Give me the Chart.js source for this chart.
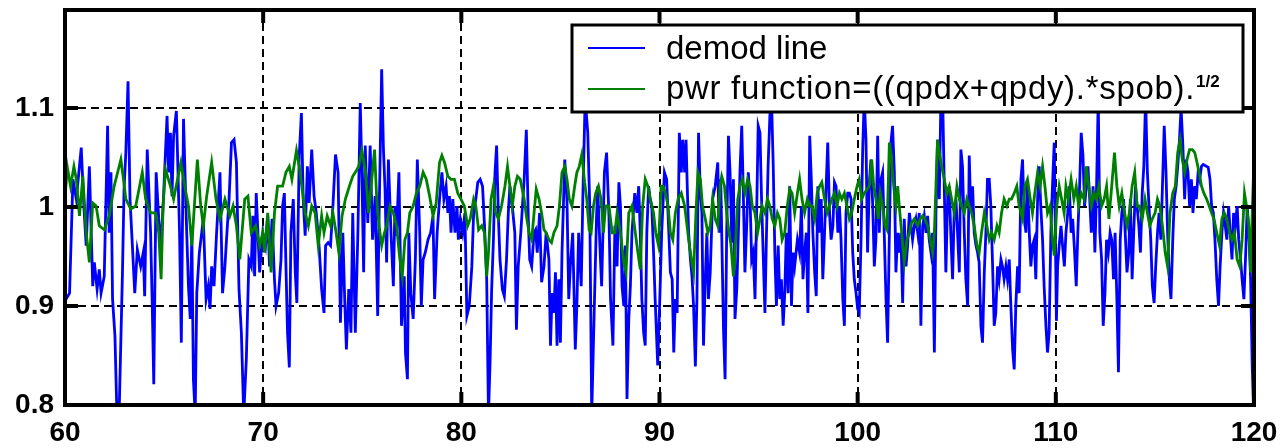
<!DOCTYPE html>
<html>
<head>
<meta charset="utf-8">
<script src="https://cdn.jsdelivr.net/npm/chart.js@4.4.0/dist/chart.umd.min.js"></script>
<style>
  html, body { margin: 0; padding: 0; background: #fff; }
</style>
</head>
<body>
<canvas id="demodChart" width="1283" height="448"></canvas>
<script>
// values
const demodX = [
  60.0, 60.23, 60.40, 60.57, 60.82, 60.95, 61.07, 61.23, 61.40, 61.48, 61.62, 61.73, 61.82, 61.98, 62.15, 62.23, 62.32, 62.40, 62.52, 62.62, 62.73, 62.90, 62.98, 63.07, 63.18, 63.28, 63.40, 63.52, 63.65, 63.82, 63.95, 64.02, 64.15, 64.32, 64.40, 64.48, 64.60, 64.73, 64.85, 64.98, 65.15, 65.23, 65.32, 65.40, 65.48, 65.62, 65.68, 65.78, 65.87, 65.98, 66.12, 66.23, 66.32, 66.40, 66.48, 66.57, 66.65, 66.78, 66.98, 67.12, 67.23, 67.32, 67.40, 67.52, 67.65, 67.82, 67.95, 68.07, 68.15, 68.28, 68.40, 68.53, 68.65, 68.78, 68.90, 69.02, 69.15, 69.28, 69.40, 69.48, 69.57, 69.65, 69.82, 69.98,
  70.12, 70.23, 70.32, 70.45, 70.57, 70.65, 70.78, 70.90, 70.98, 71.07, 71.15, 71.23, 71.32, 71.40, 71.52, 71.62, 71.70, 71.82, 71.93, 72.02, 72.12, 72.23, 72.32, 72.45, 72.57, 72.68, 72.82, 72.95, 73.07, 73.15, 73.28, 73.40, 73.52, 73.65, 73.78, 73.90, 74.02, 74.12, 74.20, 74.32, 74.43, 74.52, 74.65, 74.78, 74.90, 74.98, 75.07, 75.15, 75.28, 75.40, 75.52, 75.65, 75.78, 75.85, 75.98, 76.07, 76.15, 76.23, 76.32, 76.45, 76.57, 76.65, 76.73, 76.85, 76.98, 77.12, 77.18, 77.28, 77.35, 77.45, 77.57, 77.68, 77.78, 77.90, 77.98, 78.07, 78.18, 78.32, 78.45, 78.57, 78.65, 78.78, 78.90, 79.02, 79.12, 79.23, 79.32, 79.40, 79.48, 79.57, 79.68, 79.78, 79.85, 79.95, 80.07, 80.18, 80.28,
  80.40, 80.53, 80.62, 80.73, 80.83, 80.95, 81.07, 81.17, 81.28, 81.37, 81.45, 81.53, 81.62, 81.70, 81.78, 81.87, 81.95, 82.07, 82.17, 82.28, 82.37, 82.45, 82.57, 82.70, 82.78, 82.87, 83.00, 83.17, 83.28, 83.38, 83.45, 83.55, 83.67, 83.75, 83.83, 83.95, 84.05, 84.17, 84.28, 84.42, 84.50, 84.58, 84.67, 84.75, 84.83, 84.92, 85.00, 85.08, 85.22, 85.33, 85.42, 85.50, 85.62, 85.75, 85.83, 85.92, 86.05, 86.13, 86.25, 86.38, 86.48, 86.58, 86.72, 86.82, 86.88, 87.00, 87.08, 87.22, 87.33, 87.45, 87.53, 87.65, 87.75, 87.86, 87.95, 88.03, 88.11, 88.20, 88.28, 88.36, 88.45, 88.53, 88.61, 88.75, 88.86, 88.95, 89.03, 89.11, 89.20, 89.28, 89.36, 89.45, 89.53, 89.61, 89.70, 89.78, 89.91, 90.03, 90.11, 90.25,
  90.36, 90.47, 90.55, 90.64, 90.72, 90.80, 90.89, 91.00, 91.10, 91.17, 91.27, 91.34, 91.40, 91.47, 91.56, 91.64, 91.72, 91.81, 91.89, 91.97, 92.06, 92.14, 92.22, 92.31, 92.39, 92.47, 92.56, 92.68, 92.81, 92.94, 93.01, 93.09, 93.23, 93.31, 93.39, 93.48, 93.56, 93.65, 93.73, 93.81, 93.90, 93.98, 94.06, 94.15, 94.23, 94.31, 94.40, 94.48, 94.57, 94.65, 94.73, 94.82, 94.90, 94.98, 95.07, 95.15, 95.23, 95.32, 95.40, 95.48, 95.57, 95.65, 95.74, 95.82, 95.90, 95.99, 96.07, 96.15, 96.24, 96.32, 96.40, 96.49, 96.57, 96.66, 96.74, 96.82, 96.96, 97.07, 97.16, 97.24, 97.32, 97.41, 97.49, 97.58, 97.66, 97.74, 97.83, 97.91, 97.99, 98.08, 98.16, 98.24, 98.33, 98.41, 98.49, 98.58, 98.66, 98.75, 98.83, 98.91, 99.00, 99.08, 99.16, 99.25, 99.33, 99.41, 99.50, 99.58, 99.67, 99.75, 99.83, 99.92, 100.0, 100.08, 100.17, 100.25, 100.33, 100.42,
  100.50, 100.59, 100.67, 100.76, 100.84, 100.92, 101.01, 101.09, 101.18, 101.26, 101.34, 101.43, 101.51, 101.60, 101.68, 101.76, 101.85, 101.93, 102.02, 102.10, 102.18, 102.27, 102.35, 102.44, 102.52, 102.61, 102.69, 102.77, 102.86, 102.94, 103.03, 103.11, 103.19, 103.28, 103.36, 103.45, 103.53, 103.61, 103.70, 103.78, 103.87, 103.95, 104.03, 104.12, 104.20, 104.29, 104.37, 104.45, 104.54, 104.62, 104.71, 104.79, 104.87, 104.96, 105.04, 105.13, 105.21, 105.29, 105.38, 105.46, 105.55, 105.63, 105.71, 105.80, 105.88, 105.97, 106.05, 106.13, 106.22, 106.30, 106.39, 106.47, 106.55, 106.64, 106.72, 106.81, 106.89, 106.97, 107.06, 107.14, 107.23, 107.31, 107.39, 107.48, 107.56, 107.65, 107.73, 107.82, 107.90, 107.98, 108.07, 108.15, 108.24, 108.32, 108.40, 108.49, 108.57, 108.66, 108.74, 108.82, 108.91, 108.99, 109.08, 109.16, 109.24, 109.33, 109.41, 109.50, 109.58, 109.66, 109.75, 109.83, 109.92,
  110.03, 110.09, 110.17, 110.26, 110.34, 110.43, 110.51, 110.60, 110.68, 110.77, 110.85, 110.94, 111.03, 111.11, 111.20, 111.28, 111.37, 111.45, 111.54, 111.62, 111.71, 111.79, 111.88, 111.97, 112.05, 112.14, 112.22, 112.31, 112.39, 112.48, 112.56, 112.65, 112.74, 112.82, 112.91, 112.99, 113.08, 113.16, 113.25, 113.33, 113.42, 113.50, 113.59, 113.68, 113.76, 113.85, 113.93, 114.02, 114.10, 114.19, 114.27, 114.36, 114.44, 114.53, 114.62, 114.70, 114.79, 114.87, 114.96, 115.04, 115.13, 115.21, 115.30, 115.38, 115.47, 115.56, 115.64, 115.73, 115.81, 115.90, 115.98, 116.07, 116.15, 116.24, 116.32, 116.41, 116.50, 116.58, 116.67, 116.75, 116.84, 116.92, 117.01, 117.09, 117.18, 117.26, 117.35, 117.44, 117.69, 117.78, 117.86, 117.95, 118.03, 118.12, 118.21, 118.29, 118.38, 118.46, 118.55, 118.63, 118.72, 118.80, 118.89, 118.97, 119.06, 119.15, 119.23, 119.32, 119.40, 119.49, 119.57, 119.66, 119.74, 119.83, 119.91, 120.0
];
const demodY = [
  0.905, 0.913, 1.028, 1.008, 1.060, 1.001, 0.961, 1.041, 0.920, 0.944, 0.917, 0.937, 0.913, 0.930, 1.082, 0.974, 1.035, 0.907, 0.870, 0.79, 0.79, 0.934, 1.018, 1.055, 1.127, 1.008, 0.961, 0.913, 0.957, 0.940, 0.954, 0.910, 1.058, 0.974, 0.903, 0.821, 1.035, 0.988, 0.961, 1.014, 1.092, 1.035, 1.075, 1.011, 1.072, 1.097, 1.052, 0.974, 0.863, 1.089, 0.988, 0.920, 0.887, 0.974, 0.826, 0.79, 0.913, 0.954, 0.988, 0.907, 0.920, 0.897, 0.940, 0.920, 0.974, 1.035, 0.913, 0.940, 0.967, 1.008, 1.065, 1.068, 1.045, 0.917, 0.873, 0.79, 0.846, 0.947, 0.940, 0.991, 0.930, 1.014, 0.934, 0.974,
  0.961, 0.991, 0.940, 0.988, 0.927, 0.900, 0.913, 0.947, 1.001, 1.014, 0.940, 0.873, 0.838, 0.974, 1.008, 0.934, 0.903, 1.052, 1.095, 1.008, 0.971, 1.041, 1.004, 1.058, 1.011, 0.994, 0.961, 0.917, 0.893, 0.961, 0.964, 0.961, 1.001, 1.053, 1.035, 0.883, 0.974, 0.903, 0.856, 0.917, 0.873, 0.994, 0.873, 0.974, 1.105, 1.035, 0.934, 1.062, 0.984, 1.062, 0.967, 1.011, 0.890, 0.991, 1.139, 1.058, 1.018, 0.944, 1.048, 0.974, 0.920, 1.001, 0.971, 1.035, 0.880, 0.930, 0.853, 0.826, 0.974, 0.913, 0.887, 0.947, 1.048, 0.974, 0.900, 0.947, 0.954, 0.967, 0.974, 0.991, 0.907, 0.974, 1.008, 1.035, 1.008, 1.021, 0.994, 1.011, 0.974, 1.008, 0.974, 1.001, 0.967, 0.988, 0.974, 0.994, 0.890,
  0.900, 0.940, 0.994, 1.008, 1.025, 1.028, 1.021, 0.981, 0.927, 0.79, 0.843, 0.917, 0.967, 1.035, 1.062, 0.991, 0.947, 0.917, 0.910, 0.947, 0.994, 1.021, 1.001, 0.974, 0.876, 0.940, 0.974, 1.028, 1.078, 0.988, 0.947, 0.940, 0.974, 0.977, 0.954, 0.994, 0.924, 0.940, 0.974, 0.947, 0.860, 0.913, 0.893, 0.934, 0.860, 0.927, 0.863, 0.954, 1.048, 1.008, 0.907, 0.940, 0.974, 0.856, 0.900, 0.974, 0.920, 1.008, 1.11, 1.075, 1.001, 0.79, 0.907, 0.988, 1.021, 0.957, 0.920, 1.035, 1.055, 0.991, 0.907, 0.860, 0.981, 0.940, 1.025, 1.001, 0.920, 0.900, 0.961, 0.806, 0.887, 0.920, 0.974, 1.014, 0.994, 1.021, 0.974, 0.907, 0.873, 0.860, 0.974, 1.021, 1.008, 1.001, 0.954, 0.907, 0.84, 0.917, 0.974, 1.035,
  1.028, 0.974, 0.934, 0.927, 0.853, 0.907, 0.893, 1.075, 1.035, 1.068, 1.035, 1.068, 1.021, 0.974, 0.947, 0.930, 0.900, 0.839, 0.907, 1.075, 1.014, 0.994, 0.860, 0.927, 0.974, 0.907, 0.934, 1.008, 1.021, 1.045, 0.974, 1.028, 0.876, 0.826, 0.974, 1.072, 1.035, 0.964, 1.028, 0.887, 0.917, 0.974, 1.035, 1.082, 1.014, 0.934, 0.981, 1.035, 1.008, 0.947, 0.954, 0.907, 0.991, 1.082, 1.075, 1.008, 0.954, 0.893, 0.974, 1.041, 1.092, 1.11, 1.041, 0.954, 0.900, 0.961, 0.907, 0.927, 0.880, 0.913, 0.974, 0.913, 1.021, 0.900, 0.954, 0.940, 0.967, 0.954, 1.001, 0.927, 0.954, 0.974, 0.893, 1.072, 1.028, 0.974, 0.934, 0.910, 1.021, 0.974, 1.008, 0.927, 0.974, 1.021, 1.065, 0.994, 0.967, 0.981, 1.025, 1.021, 0.974, 1.001, 0.967, 0.907, 0.880, 0.994, 1.014, 1.014, 1.008, 0.954, 0.927, 0.913, 0.897, 0.893, 0.967, 1.055, 1.11, 1.068,
  0.954, 1.025, 1.048, 1.001, 0.940, 0.967, 1.072, 0.974, 1.028, 1.035, 0.974, 0.907, 0.863, 0.974, 1.065, 1.082, 1.035, 0.934, 0.974, 0.954, 0.974, 0.903, 0.988, 0.940, 0.961, 0.994, 0.981, 0.967, 0.981, 0.988, 0.974, 0.994, 0.880, 0.981, 0.991, 0.974, 0.991, 0.967, 0.954, 0.974, 0.853, 0.994, 1.068, 1.008, 1.11, 1.11, 1.021, 0.934, 1.008, 1.021, 0.967, 0.927, 0.994, 1.008, 0.974, 0.934, 1.058, 1.041, 0.974, 0.927, 0.900, 1.052, 0.994, 1.021, 0.974, 0.961, 0.954, 0.944, 0.880, 0.863, 0.934, 0.974, 1.028, 1.028, 1.001, 0.940, 0.880, 0.893, 0.940, 0.927, 0.947, 0.940, 0.927, 0.940, 0.927, 0.947, 0.900, 0.856, 0.836, 0.900, 0.940, 0.913, 1.028, 1.048, 0.994, 0.974, 1.028, 0.974, 0.940, 0.961, 0.967, 0.927, 1.008, 1.041, 1.001, 0.967, 0.920, 0.880, 0.853, 0.873, 0.974, 1.021, 1.065,
  0.885, 0.940, 0.961, 0.981, 0.961, 0.940, 0.974, 0.994, 1.021, 0.974, 0.988, 0.957, 0.920, 0.974, 1.021, 1.075, 1.052, 1.001, 1.021, 1.041, 1.008, 0.974, 1.021, 0.954, 1.014, 1.11, 0.974, 0.947, 0.880, 0.913, 0.967, 0.954, 0.974, 0.967, 0.927, 0.974, 0.907, 0.833, 0.967, 0.994, 1.008, 0.974, 0.934, 0.954, 1.008, 0.927, 0.974, 1.021, 1.001, 0.981, 0.954, 1.014, 1.041, 1.11, 1.035, 1.001, 0.967, 0.920, 0.903, 0.940, 0.974, 0.994, 0.967, 1.021, 1.082, 1.035, 0.974, 0.927, 0.907, 0.967, 1.008, 1.021, 1.041, 1.068, 1.10, 1.062, 1.008, 1.048, 1.035, 1.001, 1.028, 0.994, 1.021, 1.008, 1.035, 1.028, 1.041, 1.043, 1.040, 1.028, 1.001, 0.994, 0.967, 0.927, 0.900, 0.940, 0.974, 0.994, 0.981, 0.967, 1.001, 0.974, 0.947, 0.994, 0.981, 1.001, 0.967, 0.947, 0.927, 0.907, 0.947, 1.001, 0.974, 0.927, 0.84, 0.78
];
const pwrX = [
  60.0, 60.12, 60.28, 60.45, 60.57, 60.73, 60.90, 61.07, 61.23, 61.40, 61.57, 61.73, 61.98, 62.23, 62.48, 62.82, 62.95, 63.07, 63.32, 63.57, 63.90, 64.07, 64.32, 64.57, 64.73, 64.85, 64.95, 65.07, 65.32, 65.48, 65.85, 66.07, 66.23, 66.40, 66.68, 66.85, 66.98, 67.15, 67.40, 67.62, 67.82, 68.07, 68.32, 68.48, 68.65, 68.82, 69.07, 69.23, 69.40, 69.62, 69.82, 69.98,
  70.07, 70.23, 70.40, 70.57, 70.73, 70.98, 71.15, 71.32, 71.45, 71.68, 71.82, 71.95, 72.12, 72.28, 72.45, 72.62, 72.78, 72.95, 73.07, 73.23, 73.40, 73.52, 73.68, 73.82, 73.98, 74.15, 74.35, 74.52, 74.65, 74.82, 74.98, 75.15, 75.32, 75.48, 75.62, 75.73, 75.85, 75.98, 76.12, 76.23, 76.40, 76.57, 76.73, 76.90, 77.02, 77.15, 77.28, 77.40, 77.57, 77.73, 77.90, 78.07, 78.23, 78.40, 78.57, 78.73, 78.90, 79.02, 79.15, 79.32, 79.48, 79.65, 79.82, 79.98, 80.15, 80.32,
  80.45, 80.62, 80.73, 80.87, 81.03, 81.17, 81.28, 81.37, 81.50, 81.62, 81.73, 81.87, 82.03, 82.20, 82.33, 82.45, 82.57, 82.70, 82.83, 82.97, 83.17, 83.28, 83.42, 83.55, 83.67, 83.78, 83.92, 84.05, 84.17, 84.28, 84.42, 84.55, 84.67, 84.83, 84.95, 85.08, 85.22, 85.33, 85.45, 85.58, 85.72, 85.83, 85.95, 86.08, 86.22, 86.33, 86.45, 86.55, 86.67, 86.78, 86.92, 87.05, 87.17, 87.28, 87.45, 87.61, 87.75, 87.86, 88.03, 88.20, 88.31, 88.45, 88.61, 88.78, 88.91, 89.03, 89.15, 89.28, 89.41, 89.53, 89.70, 89.81, 89.95, 90.08,
  90.17, 90.30, 90.43, 90.55, 90.67, 90.80, 90.94, 91.10, 91.27, 91.39, 91.47, 91.61, 91.72, 91.84, 91.94, 92.06, 92.17, 92.31, 92.44, 92.56, 92.68, 92.81, 92.94, 93.06, 93.14, 93.28, 93.39, 93.51, 93.61, 93.73, 93.81, 93.95, 94.06, 94.18, 94.31, 94.45, 94.57, 94.68, 94.82, 94.95, 95.07, 95.18, 95.32, 95.45, 95.57, 95.69, 95.82, 95.95, 96.07, 96.19, 96.32, 96.45, 96.57, 96.69, 96.82, 96.96, 97.07, 97.19, 97.32, 97.46, 97.58, 97.69, 97.83, 97.96, 98.08, 98.19, 98.33, 98.46, 98.58, 98.70, 98.83, 98.96, 99.08, 99.20, 99.33, 99.46, 99.58, 99.70, 99.83, 99.97, 100.08, 100.20, 100.33,
  100.59, 100.71, 100.81, 100.92, 101.04, 101.14, 101.26, 101.38, 101.48, 101.60, 101.68, 101.76, 101.85, 101.93, 102.02, 102.10, 102.22, 102.35, 102.49, 102.61, 102.72, 102.86, 103.03, 103.16, 103.28, 103.39, 103.53, 103.66, 103.78, 103.87, 103.95, 104.03, 104.12, 104.24, 104.37, 104.50, 104.62, 104.74, 104.87, 105.01, 105.13, 105.24, 105.38, 105.51, 105.63, 105.75, 105.88, 106.02, 106.13, 106.25, 106.39, 106.52, 106.64, 106.76, 106.89, 107.03, 107.14, 107.26, 107.39, 107.53, 107.65, 107.76, 107.90, 108.03, 108.15, 108.32, 108.44, 108.57, 108.71, 108.82, 108.94, 109.08, 109.21, 109.33, 109.45, 109.58, 109.71, 109.83, 109.92, 110.05, 110.17, 110.29, 110.42,
  110.51, 110.63, 110.77, 110.91, 111.03, 111.15, 111.28, 111.42, 111.54, 111.66, 111.79, 111.93, 112.05, 112.17, 112.31, 112.44, 112.56, 112.68, 112.82, 112.96, 113.08, 113.20, 113.33, 113.47, 113.59, 113.71, 113.85, 113.98, 114.10, 114.22, 114.36, 114.50, 114.62, 114.74, 114.87, 115.01, 115.13, 115.25, 115.38, 115.52, 115.64, 115.76, 115.90, 116.03, 116.15, 116.27, 116.38, 116.50, 116.62, 116.75, 116.89, 117.01, 117.09, 117.23, 117.35, 117.47, 117.61, 117.74, 117.86, 117.98, 118.12, 118.26, 118.38, 118.50, 118.63, 118.77, 118.89, 119.01, 119.15, 119.28, 119.40, 119.52, 119.62, 119.74, 119.83, 119.91, 120.0
];
const pwrY = [
  1.01, 1.04, 1.021, 1.041, 1.028, 0.991, 1.031, 0.974, 0.944, 1.004, 1.001, 0.981, 0.977, 0.991, 1.021, 1.048, 1.028, 1.008, 0.998, 1.001, 1.035, 1.008, 0.994, 0.994, 0.974, 0.927, 1.001, 1.038, 1.021, 1.008, 1.045, 1.018, 1.001, 0.961, 1.048, 1.001, 0.981, 1.011, 1.045, 1.008, 0.988, 1.008, 0.991, 1.001, 0.981, 0.947, 1.008, 1.011, 0.974, 0.981, 0.961, 0.974,
  0.954, 0.994, 0.934, 0.994, 1.021, 1.021, 1.035, 1.041, 1.028, 1.057, 1.041, 1.021, 0.994, 0.981, 1.001, 0.994, 0.961, 0.991, 0.974, 0.991, 0.981, 0.994, 0.974, 0.954, 0.991, 1.008, 1.021, 1.031, 1.035, 1.041, 1.057, 1.038, 0.994, 1.028, 1.058, 1.008, 0.981, 0.961, 0.974, 0.981, 1.001, 0.994, 0.981, 0.947, 0.930, 0.967, 0.974, 0.994, 1.001, 1.014, 1.021, 1.035, 1.028, 1.011, 0.991, 1.004, 1.045, 1.052, 1.045, 1.031, 1.028, 1.028, 1.014, 1.008, 1.001, 0.981,
  0.988, 1.008, 1.001, 0.977, 0.981, 0.974, 0.930, 0.954, 1.008, 1.021, 0.994, 0.988, 1.001, 1.021, 1.041, 1.021, 1.001, 1.021, 1.031, 1.028, 1.008, 0.991, 0.974, 0.967, 0.994, 1.018, 1.008, 0.994, 0.977, 0.974, 0.967, 0.964, 0.974, 0.981, 1.001, 1.035, 1.041, 1.028, 1.008, 1.001, 1.021, 1.035, 1.041, 1.053, 1.025, 1.008, 0.977, 0.974, 1.001, 1.014, 1.021, 1.008, 0.974, 1.001, 1.001, 0.974, 0.974, 0.994, 0.974, 0.944, 0.934, 0.994, 1.001, 0.974, 0.954, 0.937, 1.001, 1.028, 1.021, 1.008, 0.994, 0.974, 0.961, 1.021,
  1.021, 1.014, 1.001, 0.974, 0.967, 0.994, 1.008, 1.014, 1.001, 0.981, 0.967, 0.947, 0.934, 0.994, 1.035, 1.028, 1.001, 0.988, 0.974, 0.981, 1.008, 0.988, 0.981, 1.021, 1.031, 1.021, 0.994, 0.974, 0.961, 0.930, 0.954, 1.008, 1.021, 1.028, 1.014, 1.028, 1.021, 1.001, 0.994, 0.974, 0.988, 1.001, 0.994, 1.008, 1.001, 0.988, 0.981, 0.994, 0.988, 0.967, 0.974, 1.001, 1.018, 1.014, 0.994, 1.014, 1.028, 1.008, 0.994, 1.008, 1.001, 1.001, 0.988, 1.014, 1.021, 1.025, 1.008, 0.994, 1.001, 1.008, 1.014, 1.001, 1.014, 1.008, 1.014, 1.001, 0.988, 0.994, 1.008, 1.021, 1.028, 1.008, 1.014,
  1.021, 1.048, 1.021, 1.008, 0.988, 1.014, 1.001, 0.981, 0.977, 1.065, 1.055, 1.035, 1.014, 1.001, 1.021, 1.001, 0.974, 0.944, 0.967, 0.974, 0.984, 0.988, 0.981, 0.988, 0.991, 0.988, 0.981, 0.967, 0.954, 0.974, 1.021, 1.068, 1.055, 1.041, 1.028, 1.014, 1.021, 1.008, 0.994, 1.021, 1.008, 1.001, 0.994, 1.008, 1.001, 0.994, 0.981, 0.961, 0.954, 0.974, 0.994, 0.981, 0.967, 0.974, 0.967, 0.981, 0.974, 0.994, 1.008, 1.001, 1.008, 1.008, 1.014, 1.021, 1.001, 0.988, 1.021, 1.028, 1.008, 0.994, 1.014, 1.035, 1.021, 1.041, 1.021, 0.994, 1.001, 0.967, 0.951, 1.001, 1.021, 1.008, 0.994,
  1.021, 1.008, 1.028, 1.008, 1.021, 1.001, 1.014, 1.008, 1.041, 1.021, 1.001, 1.014, 1.008, 1.021, 1.001, 1.008, 1.021, 0.988, 1.021, 1.055, 1.021, 1.001, 1.014, 0.994, 0.981, 0.994, 1.021, 1.035, 1.001, 1.001, 0.988, 1.008, 0.994, 0.981, 0.988, 0.994, 1.008, 1.001, 0.981, 0.954, 0.940, 0.994, 1.014, 1.021, 1.055, 1.068, 1.048, 1.035, 1.048, 1.058, 1.058, 1.055, 1.048, 1.035, 1.021, 1.014, 1.008, 1.001, 0.994, 0.988, 0.974, 0.961, 0.988, 0.994, 0.988, 0.974, 0.967, 0.974, 0.947, 0.940, 0.967, 1.014, 1.001, 0.981, 0.934, 0.994, 1.048
];
const xTicks = [60, 70, 80, 90, 100, 110, 120];
const yTicks = [0.8, 0.9, 1, 1.1];
const seriesNames = ['demod line', 'pwr function=((qpdx+qpdy).*spob).'];
const pwrExponent = '1/2';

const fontFamily = "'Liberation Sans', Arial, sans-serif";

function toPoints(xs, ys) {
  const n = Math.min(xs.length, ys.length);
  const pts = [];
  for (let i = 0; i < n; i++) pts.push({ x: xs[i], y: ys[i] });
  return pts;
}

// axes box, inward ticks and the boxed legend drawn on top of the lines
const matlabFrame = {
  id: 'matlabFrame',
  afterDatasetsDraw(chart) {
    const { ctx, chartArea: a, scales } = chart;
    const xs = scales.x, ys = scales.y;
    ctx.save();
    ctx.strokeStyle = '#000';
    ctx.lineWidth = 4;
    ctx.setLineDash([]);
    ctx.beginPath();
    xTicks.forEach(v => {
      const px = xs.getPixelForValue(v);
      ctx.moveTo(px, a.bottom); ctx.lineTo(px, a.bottom - 13);
      ctx.moveTo(px, a.top); ctx.lineTo(px, a.top + 13);
    });
    yTicks.forEach(v => {
      const py = ys.getPixelForValue(v);
      ctx.moveTo(a.left, py); ctx.lineTo(a.left + 13, py);
      ctx.moveTo(a.right, py); ctx.lineTo(a.right - 13, py);
    });
    ctx.stroke();
    ctx.strokeRect(a.left, a.top, a.right - a.left, a.bottom - a.top);

    // legend
    const lx = 572, ly = 25, lw = 671, lh = 87;
    ctx.fillStyle = '#fff';
    ctx.fillRect(lx, ly, lw, lh);
    ctx.lineWidth = 3;
    ctx.strokeRect(lx, ly, lw, lh);
    const colors = chart.data.datasets.map(d => d.borderColor);
    const rows = [48, 89];
    ctx.lineWidth = 2;
    rows.forEach((ry, i) => {
      ctx.strokeStyle = colors[i];
      ctx.beginPath();
      ctx.moveTo(588, ry); ctx.lineTo(645, ry);
      ctx.stroke();
    });
    ctx.fillStyle = '#000';
    ctx.textBaseline = 'alphabetic';
    ctx.textAlign = 'left';
    ctx.font = '33px ' + fontFamily;
    ctx.fillText(seriesNames[0], 666, 59);
    // the second entry is a bit wider in the reference
    const w0 = ctx.measureText(seriesNames[1]).width;
    if ('letterSpacing' in ctx) {
      ctx.letterSpacing = Math.max(0, (529 - w0) / seriesNames[1].length).toFixed(2) + 'px';
    }
    const w = ctx.measureText(seriesNames[1]).width;
    ctx.fillText(seriesNames[1], 666, 99);
    if ('letterSpacing' in ctx) ctx.letterSpacing = '0px';
    ctx.font = 'bold 17px ' + fontFamily;
    ctx.fillText(pwrExponent, 666 + w + 1, 87);
    ctx.restore();
  }
};

new Chart(document.getElementById('demodChart'), {
  type: 'line',
  data: {
    datasets: [
      {
        label: seriesNames[0],
        data: toPoints(demodX, demodY),
        borderColor: '#0000ff',
        borderWidth: 2.8,
        pointRadius: 0,
        tension: 0,
        order: 1
      },
      {
        label: seriesNames[1],
        data: toPoints(pwrX, pwrY),
        borderColor: '#008000',
        borderWidth: 2.8,
        pointRadius: 0,
        tension: 0,
        order: 0
      }
    ]
  },
  options: {
    responsive: false,
    animation: false,
    devicePixelRatio: 1,
    layout: { padding: { left: 0, right: 29, top: 10, bottom: 0 } },
    plugins: {
      legend: { display: false },
      tooltip: { enabled: false }
    },
    scales: {
      x: {
        type: 'linear',
        min: 60,
        max: 120,
        afterBuildTicks: s => { s.ticks = xTicks.map(v => ({ value: v })); },
        afterFit: s => { s.height = 43; s.paddingLeft = 0; s.paddingRight = 0; },
        grid: { color: '#000', lineWidth: 2, drawTicks: false },
        border: { display: false, dash: [8, 5] },
        ticks: {
          color: '#000',
          font: { family: fontFamily, size: 28, weight: 'bold' },
          padding: 11,
          maxRotation: 0,
          autoSkip: false,
          callback: v => String(v)
        }
      },
      y: {
        type: 'linear',
        min: 0.8,
        max: 1.199,
        afterBuildTicks: s => { s.ticks = yTicks.map(v => ({ value: v })); },
        afterFit: s => { s.width = 65; s.paddingTop = 0; s.paddingBottom = 0; },
        grid: { color: '#000', lineWidth: 2, drawTicks: false },
        border: { display: false, dash: [8, 5] },
        ticks: {
          color: '#000',
          font: { family: fontFamily, size: 28, weight: 'bold' },
          padding: 11,
          callback: v => String(v)
        }
      }
    }
  },
  plugins: [matlabFrame]
});
</script>
</body>
</html>
